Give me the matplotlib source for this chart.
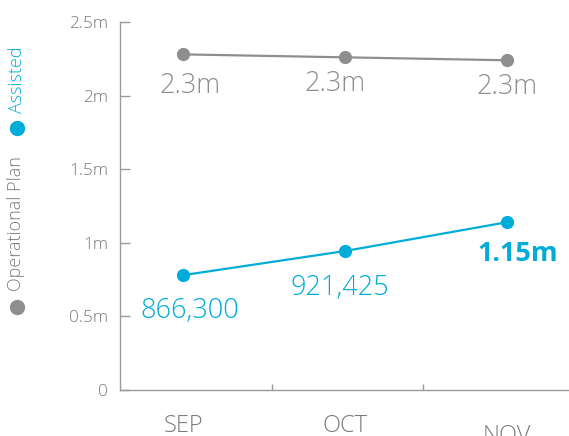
import matplotlib
matplotlib.use("Agg")
import matplotlib.pyplot as plt

months = ["SEP", "OCT", "NOV"]
operational_plan = [2.28, 2.26, 2.24]          # millions
assisted = [0.78, 0.944, 1.14]                 # millions
operational_labels = ["2.3m", "2.3m", "2.3m"]
assisted_labels = ["866,300", "921,425", "1.15m"]
y_ticks = [0, 0.5, 1, 1.5, 2, 2.5]
y_tick_labels = ["0", "0.5m", "1m", "1.5m", "2m", "2.5m"]

GRAY = "#8e8e91"
CYAN = "#00acd8"
TXT = "#7a7a7a"
FONT = ["Open Sans", "DejaVu Sans"]

plt.rcParams["font.family"] = FONT
plt.rcParams["font.weight"] = 300

fig = plt.figure(figsize=(5.69, 4.36), dpi=100)
W, H = 569, 436
ax = fig.add_axes([120 / W, (H - 390) / H, 1 - 120 / W, (390 - 22) / H])

x = list(range(len(months)))
ax.plot(x, operational_plan, color=GRAY, lw=1.6, marker="o", ms=8.5, zorder=3)
ax.plot(x, assisted, color=CYAN, lw=1.6, marker="o", ms=8.5, zorder=3)

# data labels (offsets in points)
op_off = [(5, -28), (-7, -24), (0, -24.5)]
for i, (v, lab) in enumerate(zip(operational_plan, operational_labels)):
    ax.annotate(lab, (x[i], v), xytext=op_off[i], textcoords="offset points",
                ha="center", va="baseline", fontsize=19.5, color=GRAY)
as_off = [(5, -31), (-3.6, -31.7), (8, -28)]
for i, (v, lab) in enumerate(zip(assisted, assisted_labels)):
    ax.annotate(lab, (x[i], v), xytext=as_off[i], textcoords="offset points",
                ha="center", va="baseline", fontsize=19.5, color=CYAN,
                fontweight="bold" if i == len(assisted) - 1 else 300)

ax.set_ylim(0, 2.5)
ax.set_xlim(-0.389, 2.383)
ax.set_yticks(y_ticks)
ax.set_yticklabels(y_tick_labels)
ax.tick_params(axis="y", direction="in", length=7, width=1, color="#9a9a9a",
               labelsize=12.4, labelcolor=TXT, pad=8.5)
ax.set_xticks([0.55, 1.48])
ax.set_xticklabels([])
ax.tick_params(axis="x", direction="in", length=4.5, width=1, color="#9a9a9a")

for s in ["top", "right"]:
    ax.spines[s].set_visible(False)
for s in ["left", "bottom"]:
    ax.spines[s].set_color("#9a9a9a")
    ax.spines[s].set_linewidth(1)

# category labels (baseline offsets below the axis, in pixels)
cat_dy = [-42, -42, -52]
for i, m in enumerate(months):
    ax.annotate(m, (x[i], 0), xytext=(0, cat_dy[i] * 0.72), textcoords="offset points",
                ha="center", va="baseline", fontsize=17, color=TXT,
                annotation_clip=False)

# vertical legend on the left
fig.text(16.5 / W, 1 - 80 / H, "Assisted", rotation=90, ha="center", va="center",
         fontsize=13, color=CYAN)
fig.text(16.5 / W, 1 - 224 / H, "Operational Plan", rotation=90, ha="center",
         va="center", fontsize=13, color=TXT)
fig.lines.append(plt.Line2D([16.5 / W], [1 - 128 / H], marker="o", ms=10,
                            color=CYAN, transform=fig.transFigure, lw=0))
fig.lines.append(plt.Line2D([16.5 / W], [1 - 307 / H], marker="o", ms=10,
                            color=GRAY, transform=fig.transFigure, lw=0))

fig.savefig("out.png", dpi=100)
